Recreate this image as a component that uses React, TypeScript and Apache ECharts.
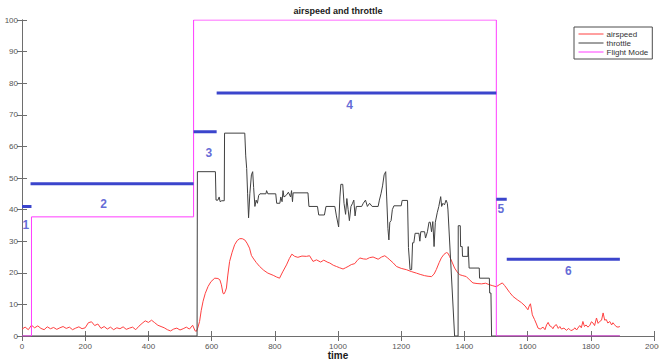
import React, { useEffect, useRef } from "react";
import * as echarts from "echarts";

// ---------- data ----------
const airspeedTime = [
  0, 10, 20, 30, 40, 50, 60, 70, 80, 90, 100, 110, 120, 130, 140, 150, 160, 170, 180, 190,
  200, 210, 220, 230, 240, 250, 260, 270, 280, 290, 300, 310, 320, 330, 340, 350, 360, 370, 380, 390,
  400, 410, 420, 430, 440, 450, 460, 470, 480, 490, 500, 510, 520, 530, 540, 548,
  552, 556, 562, 567, 573, 580, 589, 598, 610, 620, 626, 631, 636, 639, 643, 647, 651, 657, 665, 673,
  681, 689, 697, 705, 712, 720, 726, 731, 741, 752, 765, 778, 795, 805, 815, 825, 837, 846, 854, 863,
  873, 886, 900, 910, 921, 932, 945, 955, 968, 974, 985, 995, 1005, 1016, 1024, 1032, 1042, 1053, 1060, 1069,
  1080, 1090, 1100, 1111, 1120, 1127, 1138, 1148, 1156, 1164, 1175, 1185, 1200, 1216, 1232, 1248, 1260, 1274, 1285, 1296,
  1304, 1311, 1320, 1327, 1335, 1343, 1348, 1353, 1361, 1369, 1377, 1385, 1395, 1406, 1416, 1427, 1440, 1454, 1467, 1480,
  1490, 1501, 1510, 1520, 1527, 1533, 1543, 1554, 1567, 1580, 1592, 1601, 1605, 1609, 1612, 1615, 1622, 1628, 1633, 1640,
  1649, 1655, 1660, 1665, 1670, 1675, 1680, 1685, 1691, 1697, 1702, 1707, 1715, 1723, 1730, 1737, 1744, 1750, 1755, 1759,
  1765, 1770, 1775, 1780, 1785, 1791, 1797, 1802, 1807, 1812, 1818, 1823, 1828, 1834, 1839, 1844, 1849, 1854, 1860, 1866,
  1870, 1875, 1880, 1886, 1892,
];
const airspeedValue = [
  2.2, 2.8, 2.0, 3.4, 2.6, 3.2, 2.4, 2.0, 2.9, 2.3, 2.7, 2.1, 2.6, 3.0, 2.4, 2.8, 2.0, 2.5, 2.9, 2.3,
  2.6, 4.2, 4.5, 3.3, 3.8, 2.4, 3.0, 2.2, 2.8, 2.0, 2.6, 2.3, 2.9, 2.1, 2.5, 2.8, 2.0, 3.1, 4.0, 4.8,
  4.3, 5.0, 4.2, 3.4, 3.0, 2.6, 2.0, 1.6, 2.2, 2.5, 1.9, 2.3, 2.8, 2.2, 3.4, 1.6,
  1.5, 2.5, 4.6, 8.0, 11.0, 13.5, 15.7, 17.2, 18.3, 18.2, 17.8, 16.2, 13.5, 13.3, 14.0, 15.2, 19.0, 23.6, 26.5, 28.9,
  30.2, 30.8, 30.8, 30.4, 29.4, 27.8, 25.5, 24.7, 23.3, 22.0, 20.8, 19.9, 19.2, 18.7, 18.3, 20.3, 22.5, 24.5, 25.9, 25.2,
  24.9, 25.3, 25.2, 25.4, 23.6, 24.1, 23.4, 24.0, 23.3, 23.1, 22.4, 22.0, 21.6, 21.2, 21.6, 22.0, 22.6, 22.9, 23.8, 24.7,
  24.4, 24.3, 24.8, 25.0, 24.6, 24.3, 25.0, 25.4, 24.8, 24.1, 23.1, 22.0, 21.4, 21.0, 20.4, 19.9, 19.5, 19.1, 18.9, 18.8,
  19.6, 21.0, 23.2, 24.7, 25.8, 26.4, 26.2, 25.2, 23.4, 21.5, 20.3, 19.4, 19.1, 18.8, 17.8, 16.8, 16.6, 16.5, 16.7, 16.2,
  15.9, 15.6, 16.2, 16.8, 16.0, 15.2, 13.8, 12.5, 11.5, 10.6, 9.5, 8.3, 9.5, 10.2, 8.5, 6.7, 5.2, 3.8, 2.5, 2.2,
  2.8, 2.0, 3.5, 4.3, 3.2, 3.0, 2.3, 3.2, 3.6, 2.4, 3.0, 2.2, 2.5, 1.8, 2.4, 1.7, 2.0, 2.6, 1.9, 2.5,
  3.3, 2.6, 4.6, 3.0, 3.5, 2.8, 3.4, 4.5, 4.1, 3.3, 5.7, 4.0, 4.6, 5.0, 7.3, 5.0, 5.2, 4.1, 4.6, 3.5,
  4.2, 3.6, 3.0, 2.8, 3.0,
];

const throttleTime = [
  0, 554, 555, 612, 614, 620, 624, 627, 632, 640, 641, 705, 708, 711, 714, 717, 721, 726, 730, 733,
  737, 741, 745, 749, 753, 772, 774, 778, 803, 806, 816, 819, 823, 826, 829, 836, 843, 850, 853, 856,
  858, 905, 908, 935, 939, 957, 962, 990, 995, 1002, 1006, 1009, 1015, 1019, 1024, 1028, 1032, 1036, 1041, 1046,
  1050, 1054, 1058, 1075, 1080, 1087, 1093, 1100, 1108, 1127, 1131, 1136, 1141, 1146, 1151, 1154, 1158, 1161, 1164, 1168,
  1172, 1177, 1200, 1203, 1220, 1223, 1228, 1233, 1236, 1240, 1244, 1256, 1259, 1262, 1274, 1277, 1283, 1288, 1292, 1296,
  1300, 1304, 1308, 1314, 1319, 1325, 1328, 1332, 1337, 1342, 1346, 1348, 1369, 1380, 1380.5, 1387, 1388, 1393, 1394, 1411,
  1412, 1414, 1415, 1447, 1448, 1479, 1480, 1484, 1486, 1892,
];
const throttleValue = [
  0, 0, 52, 52, 43, 43, 44, 42.5, 42.8, 42.8, 64.2, 64.2, 57, 53, 45, 37.4, 45, 51, 52, 47,
  41, 43, 42, 44.5, 45, 45, 46, 45, 45, 42, 42, 44, 42.5, 46, 44, 44.5, 45.5, 44, 46, 42.5,
  45.3, 45.3, 41, 41, 38.3, 38.3, 41, 41, 38, 34.5, 44, 48, 48, 42, 38.5, 43.5, 40, 36.5, 41, 42,
  43, 38, 41, 41, 42, 43, 41, 42, 41, 41, 43, 45, 47.5, 51, 52, 44, 34, 30.4, 36, 36.5,
  40, 41.2, 41.2, 42.9, 42.9, 28, 21, 21, 29.5, 29.5, 32.5, 32.5, 30, 33, 33, 31, 33, 36, 36, 33,
  36.2, 28.3, 36, 39, 41, 44.1, 41, 42, 41.5, 43, 42, 39.9, 0, 0, 34.9, 34.9, 28.3, 28.3, 25.2, 25.2,
  28.3, 28.3, 21.5, 21.5, 18.3, 18.3, 13.6, 13.6, 0, 0,
];

const modeTime = [0, 30, 30, 543, 543, 1501, 1501, 1892];
const modeValue = [0, 0, 37.7, 37.7, 100, 100, 0, 0];

// annotated flight-mode segments (blue bars) and their labels
const segStart = [0, 27, 543, 616, 1501, 1534];
const segEnd = [30, 543, 616, 1501, 1534, 1892];
const segLevel = [41, 48.2, 64.6, 76.9, 43.3, 24.3];
const labelText = ["1", "2", "3", "4", "5", "6"];
const labelX = [12, 258, 591, 1037, 1515, 1729];
const labelY = [35, 41.8, 58, 73, 40.2, 20.7];

const xTicks = { min: 0, max: 2000, interval: 200 };
const yTicks = { min: 0, max: 100, interval: 10 };

const FONT = "'Liberation Sans', Arial, Helvetica, sans-serif";
const BLUE = "#3b45cc";

export default function App() {
  const ref = useRef<HTMLDivElement>(null);
  useEffect(() => {
    if (!ref.current) return;
    const chart = echarts.init(ref.current, undefined, { renderer: "svg" });
    const zip = (xs: number[], ys: number[]) => xs.map((x, i) => [x, ys[i]]);
    const axisCommon = {
      type: "value" as const,
      axisLine: { show: true, lineStyle: { color: "#6e6e6e", width: 1 } },
      axisTick: { show: true, inside: true, length: 5, lineStyle: { color: "#6e6e6e" } },
      splitLine: { show: false },
    };
    const segSeries = segStart.map((s, i) => ({
      type: "line",
      name: "seg" + i,
      xAxisIndex: 0,
      yAxisIndex: 0,
      symbol: "none",
      silent: true,
      lineStyle: { color: BLUE, width: 3 },
      data: [
        [s, segLevel[i]],
        [segEnd[i], segLevel[i]],
      ],
      z: 5,
    }));
    chart.setOption({
      animation: false,
      textStyle: { fontFamily: FONT },
      title: {
        text: "airspeed and throttle",
        left: 338,
        top: 6,
        padding: 0,
        textAlign: "center",
        textStyle: { fontSize: 9, fontWeight: "bold", color: "#1a1a1a", fontFamily: FONT },
      },
      legend: {
        data: ["airspeed", "throttle", "Flight Mode"],
        orient: "vertical",
        left: 574,
        top: 27,
        padding: [3, 4, 3, 4],
        itemGap: 1,
        itemWidth: 25,
        itemHeight: 8,
        borderColor: "#4d4d4d",
        borderWidth: 1,
        backgroundColor: "#fff",
        itemStyle: { opacity: 0 },
        lineStyle: { width: 1 },
        textStyle: { fontSize: 8, color: "#333", fontFamily: FONT, padding: [0, 0, 0, -2] },
      },
      grid: {
        left: 22,
        right: 5,
        top: 20,
        bottom: 26,
        containLabel: false,
        outerBoundsMode: "none",
      },
      xAxis: [
        {
          ...axisCommon,
          ...xTicks,
          position: "bottom",
          name: "time",
          nameLocation: "middle",
          nameGap: 14,
          nameMoveOverlap: false,
          nameTextStyle: {
            fontSize: 10,
            lineHeight: 10,
            fontWeight: "bold",
            color: "#1a1a1a",
            fontFamily: FONT,
          },
          axisLabel: {
            fontSize: 8,
            color: "#555",
            margin: 6,
            fontFamily: FONT,
            formatter: (v: number) => String(v),
          },
        },
        {
          ...axisCommon,
          ...xTicks,
          position: "top",
          axisLabel: { show: false },
        },
      ],
      yAxis: [
        {
          ...axisCommon,
          ...yTicks,
          position: "left",
          axisLabel: {
            fontSize: 8,
            color: "#555",
            margin: 4,
            fontFamily: FONT,
            formatter: (v: number) => String(v),
          },
        },
        {
          ...axisCommon,
          ...yTicks,
          position: "right",
          axisLabel: { show: false },
        },
      ],
      series: [
        {
          type: "line",
          name: "airspeed",
          symbol: "none",
          lineStyle: { color: "#ff4040", width: 1 },
          itemStyle: { color: "#ff4040" },
          data: zip(airspeedTime, airspeedValue),
          z: 2,
        },
        {
          type: "line",
          name: "throttle",
          symbol: "none",
          lineStyle: { color: "#404040", width: 1 },
          itemStyle: { color: "#404040" },
          data: zip(throttleTime, throttleValue),
          z: 3,
        },
        {
          type: "line",
          name: "Flight Mode",
          symbol: "none",
          lineStyle: { color: "#ff3cff", width: 1 },
          itemStyle: { color: "#ff3cff" },
          data: zip(modeTime, modeValue),
          z: 4,
        },
        ...segSeries,
        {
          type: "scatter",
          name: "modeLabels",
          symbolSize: 0,
          silent: true,
          data: labelX.map((x, i) => [x, labelY[i], labelText[i]]),
          label: {
            show: true,
            position: "inside",
            formatter: (p: any) => p.value[2],
            fontSize: 12,
            fontWeight: "bold",
            color: BLUE,
            fontFamily: FONT,
          },
          z: 6,
        },
      ],
    });
    return () => chart.dispose();
  }, []);
  return (
    <div
      ref={ref}
      style={{ position: "absolute", left: 0, top: 0, width: 659, height: 362, background: "#fff" }}
    />
  );
}
